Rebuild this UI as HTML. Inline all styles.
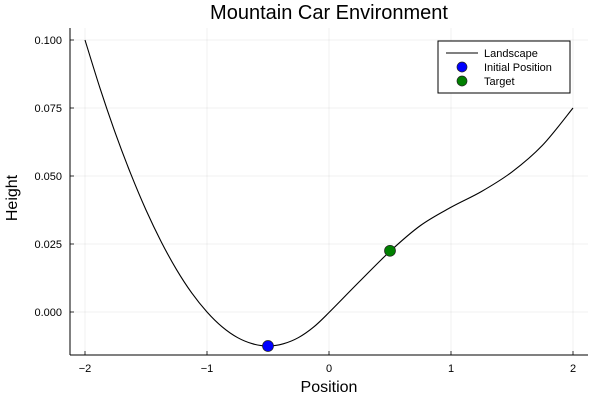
<!DOCTYPE html>
<html><head><meta charset="utf-8"><style>
body{margin:0;background:#fff;}
svg{font-family:"Liberation Sans",sans-serif;display:block;}
</style></head><body>
<svg width="600" height="400" id="chart">
<rect width="600" height="400" fill="#fff"/>
<text x="329" y="19" font-size="20" text-anchor="middle">Mountain Car Environment</text>
<g id="grid"></g>
<g id="axes"></g>
<path id="curve" fill="none" stroke="#000" stroke-width="1.1"/>
<g id="marks"></g>
<text x="329" y="392" font-size="16" text-anchor="middle">Position</text>
<text x="17" y="198" font-size="16" text-anchor="middle" transform="rotate(-90 17 198)">Height</text>
<g>
<rect x="438" y="41" width="132" height="52" fill="#fff" stroke="#000" stroke-width="1"/>
<line x1="446" y1="53" x2="478" y2="53" stroke="#000"/>
<text x="484" y="57" font-size="11">Landscape</text>
<circle cx="462" cy="67" r="5" fill="#0000ff" stroke="#222" stroke-width="0.7"/>
<text x="484" y="71" font-size="11">Initial Position</text>
<circle cx="462" cy="81" r="5" fill="#008000" stroke="#222" stroke-width="0.7"/>
<text x="484" y="85" font-size="11">Target</text>
</g>
</svg>
<script>
const xs=[-2,-1.875,-1.75,-1.625,-1.5,-1.375,-1.25,-1.125,-1,-0.875,-0.75,-0.625,-0.5,-0.375,-0.25,-0.125,0,0.25,0.5,0.75,1,1.25,1.5,1.75,2];
const ys=[0.1,0.082,0.0656,0.0508,0.0375,0.0258,0.0156,0.007,0,-0.0055,-0.0094,-0.0117,-0.0125,-0.0117,-0.0094,-0.0055,-0.0002,0.0112,0.0223,0.0318,0.0385,0.0443,0.0515,0.0613,0.075];
const pointX=[-0.5,0.5];
const pointY=[-0.0125,0.0225];
const pointColors=['#0000ff','#008000'];
const pointNames=['initial-position-point','target-point'];
const xTicks=[-2,-1,0,1,2];
const yTicks=[0,0.025,0.05,0.075,0.1];
const yTickLabels=['0.000','0.025','0.050','0.075','0.100'];
const NS='http://www.w3.org/2000/svg';
const sx=v=>329+v*122;
const sy=v=>312-v*2720;
function mk(t,a,p){const e=document.createElementNS(NS,t);for(const k in a)e.setAttribute(k,a[k]);p.appendChild(e);return e;}
const grid=document.getElementById('grid'),axes=document.getElementById('axes');
xTicks.forEach(t=>{
 const l=mk('line',{x1:sx(t),x2:sx(t),y1:28,y2:355,stroke:'#000','stroke-opacity':0.1,'stroke-width':0.6},grid);
 
 
 mk('line',{x1:sx(t),x2:sx(t),y1:355,y2:351,stroke:'#000','stroke-width':0.8},axes);
 const tx=mk('text',{x:sx(t),y:372,'font-size':11,'text-anchor':'middle'},axes);
 tx.textContent=String(t).replace('-','\u2212');
 
 
});
yTicks.forEach((t,i)=>{
 const l=mk('line',{x1:70,x2:588,y1:sy(t),y2:sy(t),stroke:'#000','stroke-opacity':0.1,'stroke-width':0.6},grid);
 
 
 mk('line',{x1:70,x2:74,y1:sy(t),y2:sy(t),stroke:'#000','stroke-width':0.8},axes);
 const tx=mk('text',{x:62,y:sy(t)+4,'font-size':11,'text-anchor':'end'},axes);
 tx.textContent=yTickLabels[i];
 
 
});
mk('line',{x1:70,x2:588,y1:355,y2:355,stroke:'#000','stroke-width':1},axes);
mk('line',{x1:70,x2:70,y1:28,y2:355,stroke:'#000','stroke-width':1},axes);
const P=xs.map((x,i)=>[sx(x),sy(ys[i])]);
let d='M'+P[0][0]+','+P[0][1];
for(let i=0;i<P.length-1;i++){
 const p0=P[Math.max(0,i-1)],p1=P[i],p2=P[i+1],p3=P[Math.min(P.length-1,i+2)];
 const c1=[p1[0]+(p2[0]-p0[0])/6,p1[1]+(p2[1]-p0[1])/6];
 const c2=[p2[0]-(p3[0]-p1[0])/6,p2[1]-(p3[1]-p1[1])/6];
 d+=` C${c1[0]},${c1[1]} ${c2[0]},${c2[1]} ${p2[0]},${p2[1]}`;
}
document.getElementById('curve').setAttribute('d',d);
const marks=document.getElementById('marks');
pointX.forEach((x,i)=>{
 const c=mk('circle',{cx:sx(x),cy:sy(pointY[i]),r:5.5,fill:pointColors[i],stroke:'#222','stroke-width':0.7},marks);
 
 
});
</script>
</body></html>
